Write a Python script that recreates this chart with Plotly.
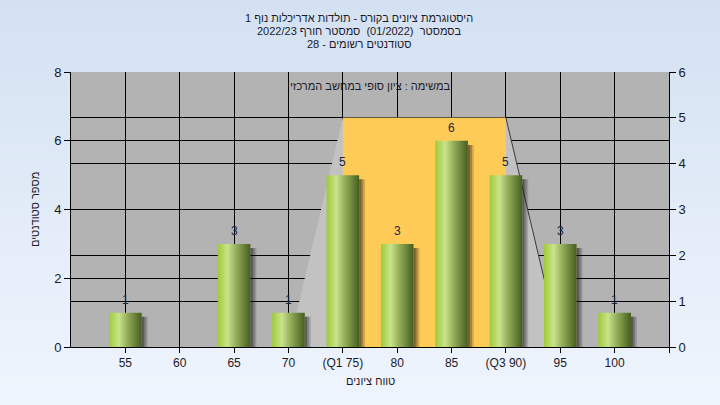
import plotly.graph_objects as go

# ---------------- data ----------------
categories = [55, 60, 65, 70, 75, 80, 85, 90, 95, 100]
tick_labels = ["55", "60", "65", "70", "(Q1 75)", "80", "85", "(Q3 90)", "95", "100"]
counts = [1, 0, 3, 1, 5, 3, 6, 5, 3, 1]

q1_value = 75
q3_value = 90
range_low = 70
range_high = 95
box_level_right_axis = 5

left_axis_max = 8
right_axis_max = 6

title_lines = [
    "היסטוגרמת ציונים בקורס - תולדות אדריכלות נוף 1",
    "בסמסטר  (01/2022)  סמסטר חורף 2022/23",
    "סטודנטים רשומים - 28",
]
inner_note = "במשימה : ציון סופי במחשב המרכזי"
x_title = "טווח ציונים"
y_title = "מספר סטודנטים"

# ---------------- layout geometry ----------------
W, H = 720, 405
ML, MR, MT, MB = 71, 51, 72, 58
PW, PH = W - ML - MR, H - MT - MB
BAR_W = 3.0
FONT = "Liberation Sans, Arial, sans-serif"
TXT = "#1a1a2a"
HEB_SIZE = 11


def px_x(p):
    return (p - ML) / PW


def px_y(p):
    return (H - MB - p) / PH


def rtl(s):
    return "\u202b" + s + "\u202c"


fig = go.Figure()

# box level converted to left-axis units through the two axis ranges
box_level = box_level_right_axis * left_axis_max / right_axis_max

# light grey funnel
fig.add_trace(go.Scatter(
    x=[range_low, q1_value, q3_value, range_high, range_low],
    y=[0, box_level, box_level, 0, 0],
    fill="toself", fillcolor="#c2c2c2", mode="lines", line=dict(width=0),
    hoverinfo="skip", showlegend=False))
# yellow quartile box
fig.add_trace(go.Scatter(
    x=[q1_value, q3_value, q3_value, q1_value, q1_value],
    y=[0, 0, box_level, box_level, 0],
    fill="toself", fillcolor="#fecb57", mode="lines", line=dict(width=0),
    hoverinfo="skip", showlegend=False))
# dark right edge
fig.add_trace(go.Scatter(
    x=[q3_value, range_high], y=[box_level, 0], mode="lines",
    line=dict(color="#3a3a3a", width=1), hoverinfo="skip", showlegend=False))

# bar shadows
for c, v in zip(categories, counts):
    if v <= 0:
        continue
    for off, a in ((0.55, 0.18), (0.38, 0.25), (0.2, 0.3)):
        x0 = c + BAR_W / 2
        fig.add_trace(go.Scatter(
            x=[x0, x0 + off, x0 + off, x0, x0],
            y=[0, 0, v - 0.12, v - 0.12, 0],
            fill="toself", fillcolor=f"rgba(20,20,20,{a})", mode="lines",
            line=dict(width=0), hoverinfo="skip", showlegend=False))

# bars with cylinder-like gradient
for c, v in zip(categories, counts):
    if v <= 0:
        continue
    x0, x1 = c - BAR_W / 2, c + BAR_W / 2
    fig.add_trace(go.Scatter(
        x=[x0, x1, x1, x0, x0], y=[0, 0, v, v, 0],
        fill="toself", mode="lines", line=dict(width=0),
        fillgradient=dict(type="horizontal", colorscale=[
            [0.0, "#9ecb38"], [0.3, "#c9e38c"], [0.55, "#96b05c"], [1.0, "#465e1e"]]),
        hoverinfo="skip", showlegend=False))

# dummy trace for right axis
fig.add_trace(go.Scatter(x=[50], y=[0], yaxis="y2", mode="markers",
                         marker=dict(opacity=0), hoverinfo="skip", showlegend=False))

annotations = []
for c, v in zip(categories, counts):
    if v <= 0:
        continue
    annotations.append(dict(x=c, y=v, xref="x", yref="y", text=str(v), showarrow=False,
                            yanchor="bottom", yshift=4,
                            font=dict(family=FONT, size=12, color="#1b2444")))

for i, line in enumerate(title_lines):
    annotations.append(dict(x=px_x(359), y=px_y(18 + 13 * i), xref="paper", yref="paper",
                            text=rtl(line), showarrow=False, xanchor="center", yanchor="middle",
                            font=dict(family=FONT, size=HEB_SIZE, color=TXT)))
annotations.append(dict(x=px_x(370), y=px_y(86), xref="paper", yref="paper", text=rtl(inner_note),
                        showarrow=False, xanchor="center", yanchor="middle",
                        font=dict(family=FONT, size=HEB_SIZE, color=TXT)))
annotations.append(dict(x=px_x(370), y=px_y(381), xref="paper", yref="paper", text=rtl(x_title),
                        showarrow=False, xanchor="center", yanchor="middle",
                        font=dict(family=FONT, size=HEB_SIZE, color=TXT)))
annotations.append(dict(x=px_x(35), y=px_y(210), xref="paper", yref="paper", text=rtl(y_title),
                        showarrow=False, xanchor="center", yanchor="middle", textangle=-90,
                        font=dict(family=FONT, size=HEB_SIZE, color=TXT)))

# background gradient strips + plot area
shapes = []
top_c = (0xd4, 0xe1, 0xf2)
bot_c = (0xef, 0xf5, 0xfd)
N = 40
for i in range(N):
    t = i / (N - 1)
    col = tuple(round(top_c[k] + (bot_c[k] - top_c[k]) * t) for k in range(3))
    y_top = px_y(i * H / N)
    y_bot = px_y((i + 1) * H / N + 1)
    shapes.append(dict(type="rect", xref="paper", yref="paper", layer="below",
                       x0=px_x(0), x1=px_x(W), y0=y_bot, y1=y_top,
                       fillcolor="rgb(%d,%d,%d)" % col, line=dict(width=0)))
shapes.append(dict(type="rect", xref="paper", yref="paper", layer="below",
                   x0=0, x1=1, y0=0, y1=1, fillcolor="#b3b3b3", line=dict(width=0)))

fig.update_layout(
    width=W, height=H,
    margin=dict(l=ML, r=MR, t=MT, b=MB),
    paper_bgcolor="#e2ebf7", plot_bgcolor="#b3b3b3",
    showlegend=False,
    font=dict(family=FONT, size=12, color=TXT),
    xaxis=dict(range=[50, 105], tickmode="array", tickvals=categories + [105],
               ticktext=tick_labels + [""], showgrid=True, gridcolor="#000000", gridwidth=1,
               showline=True, linecolor="#000000", linewidth=1, ticks="outside", ticklen=5,
               tickcolor="#000000", zeroline=False, fixedrange=True,
               tickfont=dict(family=FONT, size=12, color=TXT)),
    yaxis=dict(range=[0, left_axis_max], dtick=2, showgrid=True, gridcolor="#000000", gridwidth=1,
               showline=True, linecolor="#000000", linewidth=1, ticks="outside", ticklen=6,
               tickcolor="#000000", zeroline=False, fixedrange=True,
               tickfont=dict(family=FONT, size=13, color=TXT)),
    yaxis2=dict(range=[0, right_axis_max], dtick=1, overlaying="y", side="right",
                showgrid=True, gridcolor="#000000", gridwidth=1,
                showline=True, linecolor="#000000", linewidth=1, ticks="outside", ticklen=6,
                tickcolor="#000000", zeroline=False, fixedrange=True,
                tickfont=dict(family=FONT, size=13, color=TXT)),
    annotations=annotations,
    shapes=shapes,
)

fig.write_html("out.html", config={"displayModeBar": False},
               post_script="document.body.style.margin='0';")
